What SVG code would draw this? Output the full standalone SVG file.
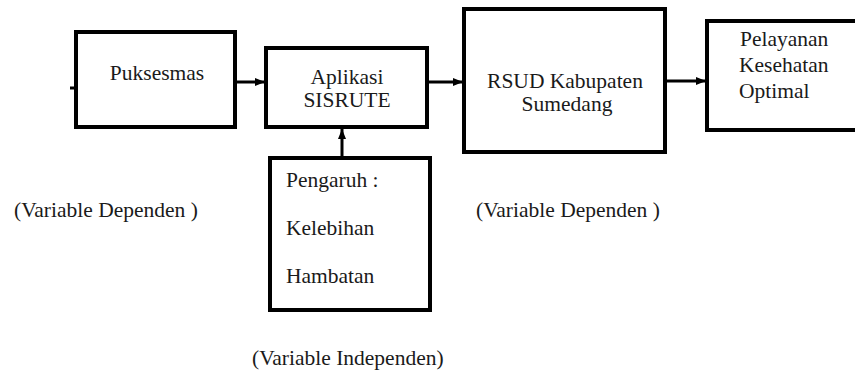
<svg xmlns="http://www.w3.org/2000/svg" width="855" height="376" viewBox="0 0 855 376">
<style>
.box{fill:#fff;stroke:#000;stroke-width:4}
.t{font-family:'Liberation Serif','Times New Roman','DejaVu Serif',serif;font-size:21.5px;fill:#1a1a1a}
.c{text-anchor:middle}
.ln{stroke:#000;stroke-width:3;fill:none}
</style>
<defs>
<marker id="ah" markerUnits="userSpaceOnUse" markerWidth="10" markerHeight="10" viewBox="0 0 10 10" refX="10" refY="5" orient="auto">
<path d="M0,1 L10,5 L0,9 Z" fill="#000"/>
</marker>
</defs>
<rect width="855" height="376" fill="#fff"/>
<g id="connectors">
<line class="ln" x1="70" y1="88" x2="76" y2="88"/>
<line class="ln" x1="237" y1="82" x2="265" y2="82" marker-end="url(#ah)"/>
<line class="ln" x1="429" y1="82" x2="463" y2="82" marker-end="url(#ah)"/>
<line class="ln" x1="667" y1="81" x2="706" y2="81" marker-end="url(#ah)"/>
<line class="ln" x1="342" y1="157" x2="342" y2="129" marker-end="url(#ah)"/>
<line x1="658" y1="84" x2="663" y2="84" stroke="#000" stroke-width="1.2"/>
</g>
<g id="puksesmas">
<rect class="box" x="76" y="32" width="159" height="95"/>
<text class="t c" x="157" y="80" font-family="Liberation Serif, serif">Puksesmas</text>
</g>
<g id="aplikasi">
<rect class="box" x="266" y="48" width="161" height="79"/>
<text class="t c" x="347" y="84" font-size="21">Aplikasi</text>
<text class="t c" x="347" y="107" font-size="21">SISRUTE</text>
</g>
<g id="rsud">
<rect class="box" x="464" y="9" width="201" height="143"/>
<text class="t c" x="565" y="88">RSUD Kabupaten</text>
<text class="t c" x="567" y="111">Sumedang</text>
</g>
<g id="pelayanan">
<rect class="box" x="707" y="21" width="160" height="109"/>
<text class="t" x="740" y="46">Pelayanan</text>
<text class="t" x="739" y="72">Kesehatan</text>
<text class="t" x="739" y="98">Optimal</text>
</g>
<g id="pengaruh">
<rect class="box" x="270" y="158" width="160" height="152"/>
<text class="t" x="286" y="187">Pengaruh :</text>
<text class="t" x="286" y="235">Kelebihan</text>
<text class="t" x="286" y="283">Hambatan</text>
</g>
<g id="labels">
<text class="t" x="14" y="217">(Variable Dependen )</text>
<text class="t" x="476" y="217">(Variable Dependen )</text>
<text class="t" x="252" y="365">(Variable Independen)</text>
</g>
</svg>
